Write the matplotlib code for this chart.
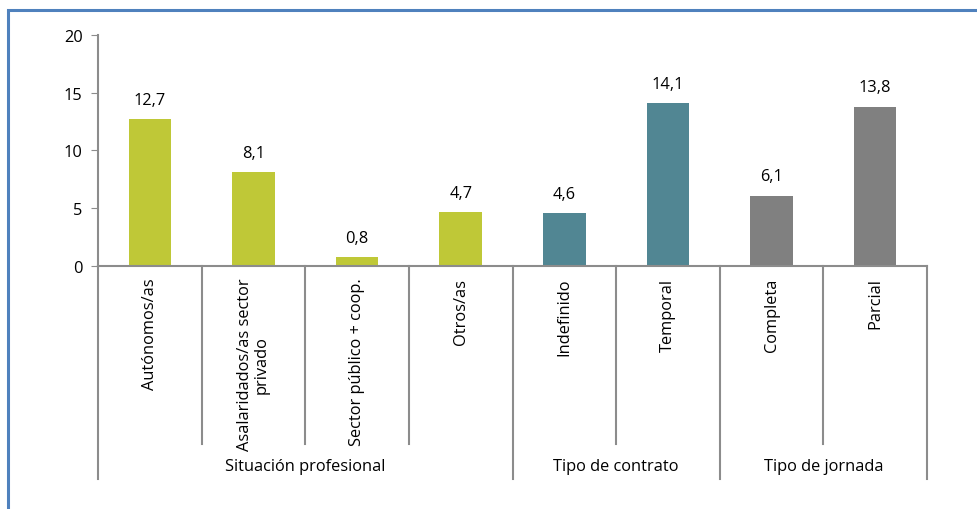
import matplotlib.pyplot as plt
from matplotlib.patches import Rectangle

# Data
categories = ["Autónomos/as", "Asalaridados/as sector\nprivado", "Sector público + coop.",
              "Otros/as", "Indefinido", "Temporal", "Completa", "Parcial"]
values = [12.7, 8.1, 0.8, 4.7, 4.6, 14.1, 6.1, 13.8]
groups = ["Situación profesional", "Tipo de contrato", "Tipo de jornada"]
group_sizes = [4, 2, 2]
group_colors = ["#BFC837", "#518693", "#808080"]

plt.rcParams['font.family'] = ['Open Sans', 'DejaVu Sans']
axis_color = "#8C8C8C"
fs = 11.8

fig = plt.figure(figsize=(9.78, 5.1), dpi=100)
ax = fig.add_axes([0.1002, 0.4765, 0.8477, 0.4529])

colors = []
for size, col in zip(group_sizes, group_colors):
    colors += [col] * size

x = list(range(len(categories)))
bars = ax.bar(x, values, width=0.41, color=colors)

for xi, v in zip(x, values):
    ax.annotate(f"{v:.1f}".replace(".", ","), (xi, v), xytext=(0, 8),
                textcoords="offset points", ha="center", va="bottom", fontsize=fs)

ax.set_xlim(-0.5, len(categories) - 0.5)
ax.set_ylim(0, 20)
ax.set_yticks([0, 5, 10, 15, 20])
ax.tick_params(axis="y", length=5, color=axis_color, labelsize=fs, pad=6)
ax.set_xticks([])
for s in ["top", "right"]:
    ax.spines[s].set_visible(False)
for s in ["left", "bottom"]:
    ax.spines[s].set_color(axis_color)
    ax.spines[s].set_linewidth(1.5)

trans = ax.get_xaxis_transform()

# category labels
for xi, lab in zip(x, categories):
    ax.text(xi, -0.05, lab, rotation=90, ha="center", va="top", multialignment="center",
            fontsize=fs, linespacing=1.1, transform=trans)

# separators
bounds = [-0.5]
for size in group_sizes:
    bounds.append(bounds[-1] + size)
for i in range(len(categories) + 1):
    b = i - 0.5
    y_end = -0.922 if b in bounds else -0.771
    ax.plot([b, b], [0, y_end], color=axis_color, lw=1.5, transform=trans, clip_on=False)

# group labels
for g, lo, hi in zip(groups, bounds[:-1], bounds[1:]):
    ax.text((lo + hi) / 2, -0.866, g, ha="center", va="center", fontsize=fs, transform=trans)

# outer frame
fig.patches.append(Rectangle((8 / 978, -0.1), 1.2, (510 - 11) / 510 + 0.1, transform=fig.transFigure,
                             fill=False, edgecolor="#4F81BD", lw=2.2))

fig.savefig("out.png", dpi=100)
